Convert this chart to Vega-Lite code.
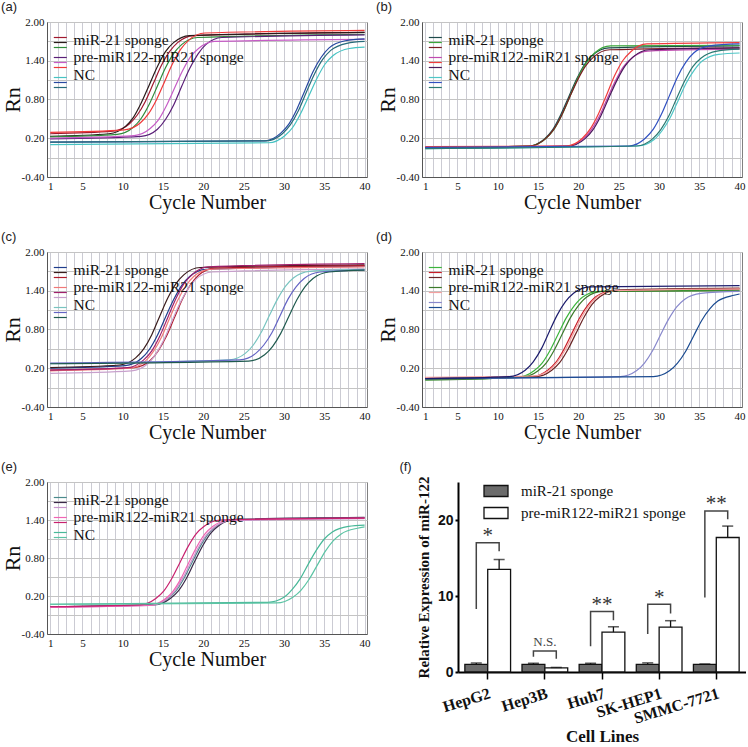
{
"$schema": "https://vega.github.io/schema/vega-lite/v6.json",
"background": "white",
"padding": {"left": 0, "top": 0, "right": 0, "bottom": 0},
"spacing": 17,
"config": {"view": {"stroke": "#808080"}, "line": {"strokeWidth": 1.2, "interpolate": "monotone"}},
"datasets": {
"lg": [{"g": "miR-21 sponge"}, {"g": "pre-miR122-miR21 sponge"}, {"g": "NC"}],
"a": [
{"s":"a1","x":1,"y":0.27},{"s":"a1","x":8.8,"y":0.31},{"s":"a1","x":10.8,"y":0.42},{"s":"a1","x":11.8,"y":0.56},{"s":"a1","x":12.8,"y":0.77},{"s":"a1","x":13.8,"y":1.05},{"s":"a1","x":14.8,"y":1.33},{"s":"a1","x":15.8,"y":1.54},{"s":"a1","x":16.8,"y":1.68},{"s":"a1","x":18.8,"y":1.79},{"s":"a1","x":40,"y":1.84},
{"s":"a2","x":1,"y":0.23},{"s":"a2","x":8.3,"y":0.27},{"s":"a2","x":10.3,"y":0.38},{"s":"a2","x":11.3,"y":0.52},{"s":"a2","x":12.3,"y":0.75},{"s":"a2","x":13.3,"y":1.03},{"s":"a2","x":14.3,"y":1.31},{"s":"a2","x":15.3,"y":1.54},{"s":"a2","x":16.3,"y":1.68},{"s":"a2","x":18.3,"y":1.79},{"s":"a2","x":40,"y":1.84},
{"s":"a3","x":1,"y":0.22},{"s":"a3","x":9.3,"y":0.26},{"s":"a3","x":11.3,"y":0.37},{"s":"a3","x":12.3,"y":0.51},{"s":"a3","x":13.3,"y":0.73},{"s":"a3","x":14.3,"y":1.01},{"s":"a3","x":15.3,"y":1.29},{"s":"a3","x":16.3,"y":1.51},{"s":"a3","x":17.3,"y":1.65},{"s":"a3","x":19.3,"y":1.76},{"s":"a3","x":40,"y":1.81},
{"s":"a4","x":1,"y":0.19},{"s":"a4","x":12.3,"y":0.23},{"s":"a4","x":14.3,"y":0.34},{"s":"a4","x":15.3,"y":0.49},{"s":"a4","x":16.3,"y":0.71},{"s":"a4","x":17.3,"y":1.0},{"s":"a4","x":18.3,"y":1.28},{"s":"a4","x":19.3,"y":1.5},{"s":"a4","x":20.3,"y":1.65},{"s":"a4","x":22.3,"y":1.76},{"s":"a4","x":40,"y":1.8},
{"s":"a5","x":1,"y":0.2},{"s":"a5","x":11.4,"y":0.24},{"s":"a5","x":13.4,"y":0.35},{"s":"a5","x":14.4,"y":0.48},{"s":"a5","x":15.4,"y":0.7},{"s":"a5","x":16.4,"y":0.97},{"s":"a5","x":17.4,"y":1.24},{"s":"a5","x":18.4,"y":1.46},{"s":"a5","x":19.4,"y":1.59},{"s":"a5","x":21.4,"y":1.7},{"s":"a5","x":40,"y":1.73},
{"s":"a6","x":1,"y":0.29},{"s":"a6","x":10.2,"y":0.33},{"s":"a6","x":12.2,"y":0.44},{"s":"a6","x":13.2,"y":0.58},{"s":"a6","x":14.2,"y":0.8},{"s":"a6","x":15.2,"y":1.08},{"s":"a6","x":16.2,"y":1.36},{"s":"a6","x":17.2,"y":1.58},{"s":"a6","x":18.2,"y":1.72},{"s":"a6","x":20.2,"y":1.83},{"s":"a6","x":40,"y":1.87},
{"s":"a7","x":1,"y":0.1},{"s":"a7","x":28.1,"y":0.13},{"s":"a7","x":30.1,"y":0.24},{"s":"a7","x":31.1,"y":0.37},{"s":"a7","x":32.1,"y":0.59},{"s":"a7","x":33.1,"y":0.86},{"s":"a7","x":34.1,"y":1.13},{"s":"a7","x":35.1,"y":1.35},{"s":"a7","x":36.1,"y":1.48},{"s":"a7","x":38.1,"y":1.59},{"s":"a7","x":40,"y":1.61},
{"s":"a8","x":1,"y":0.14},{"s":"a8","x":27.6,"y":0.16},{"s":"a8","x":29.6,"y":0.28},{"s":"a8","x":30.6,"y":0.42},{"s":"a8","x":31.6,"y":0.65},{"s":"a8","x":32.6,"y":0.94},{"s":"a8","x":33.6,"y":1.23},{"s":"a8","x":34.6,"y":1.45},{"s":"a8","x":35.6,"y":1.6},{"s":"a8","x":37.6,"y":1.71},{"s":"a8","x":40,"y":1.74},
{"s":"a9","x":1,"y":0.14},{"s":"a9","x":27.8,"y":0.16},{"s":"a9","x":29.8,"y":0.27},{"s":"a9","x":30.8,"y":0.41},{"s":"a9","x":31.8,"y":0.63},{"s":"a9","x":32.8,"y":0.92},{"s":"a9","x":33.8,"y":1.2},{"s":"a9","x":34.8,"y":1.42},{"s":"a9","x":35.8,"y":1.56},{"s":"a9","x":37.8,"y":1.67},{"s":"a9","x":40,"y":1.7}
],
"b": [
{"s":"b1","x":1,"y":0.05},{"s":"b1","x":13.8,"y":0.08},{"s":"b1","x":15.8,"y":0.19},{"s":"b1","x":16.8,"y":0.33},{"s":"b1","x":17.8,"y":0.56},{"s":"b1","x":18.8,"y":0.84},{"s":"b1","x":19.8,"y":1.12},{"s":"b1","x":20.8,"y":1.35},{"s":"b1","x":21.8,"y":1.49},{"s":"b1","x":23.8,"y":1.6},{"s":"b1","x":40,"y":1.63},
{"s":"b2","x":1,"y":0.05},{"s":"b2","x":14,"y":0.08},{"s":"b2","x":16,"y":0.2},{"s":"b2","x":17,"y":0.34},{"s":"b2","x":18,"y":0.57},{"s":"b2","x":19,"y":0.86},{"s":"b2","x":20,"y":1.15},{"s":"b2","x":21,"y":1.37},{"s":"b2","x":22,"y":1.52},{"s":"b2","x":24,"y":1.63},{"s":"b2","x":40,"y":1.64},
{"s":"b3","x":1,"y":0.05},{"s":"b3","x":13.9,"y":0.08},{"s":"b3","x":15.9,"y":0.19},{"s":"b3","x":16.9,"y":0.33},{"s":"b3","x":17.9,"y":0.55},{"s":"b3","x":18.9,"y":0.83},{"s":"b3","x":19.9,"y":1.1},{"s":"b3","x":20.9,"y":1.32},{"s":"b3","x":21.9,"y":1.46},{"s":"b3","x":23.9,"y":1.57},{"s":"b3","x":40,"y":1.6},
{"s":"b4","x":1,"y":0.06},{"s":"b4","x":18.6,"y":0.08},{"s":"b4","x":20.6,"y":0.19},{"s":"b4","x":21.6,"y":0.33},{"s":"b4","x":22.6,"y":0.54},{"s":"b4","x":23.6,"y":0.82},{"s":"b4","x":24.6,"y":1.09},{"s":"b4","x":25.6,"y":1.31},{"s":"b4","x":26.6,"y":1.44},{"s":"b4","x":28.6,"y":1.55},{"s":"b4","x":40,"y":1.58},
{"s":"b5","x":1,"y":0.05},{"s":"b5","x":18.8,"y":0.08},{"s":"b5","x":20.8,"y":0.19},{"s":"b5","x":21.8,"y":0.33},{"s":"b5","x":22.8,"y":0.55},{"s":"b5","x":23.8,"y":0.83},{"s":"b5","x":24.8,"y":1.1},{"s":"b5","x":25.8,"y":1.32},{"s":"b5","x":26.8,"y":1.46},{"s":"b5","x":28.8,"y":1.57},{"s":"b5","x":40,"y":1.6},
{"s":"b6","x":1,"y":0.07},{"s":"b6","x":18.5,"y":0.08},{"s":"b6","x":20.5,"y":0.2},{"s":"b6","x":21.5,"y":0.35},{"s":"b6","x":22.5,"y":0.58},{"s":"b6","x":23.5,"y":0.87},{"s":"b6","x":24.5,"y":1.17},{"s":"b6","x":25.5,"y":1.4},{"s":"b6","x":26.5,"y":1.54},{"s":"b6","x":28.5,"y":1.66},{"s":"b6","x":40,"y":1.68},
{"s":"b7","x":1,"y":0.04},{"s":"b7","x":27.4,"y":0.08},{"s":"b7","x":29.4,"y":0.18},{"s":"b7","x":30.4,"y":0.32},{"s":"b7","x":31.4,"y":0.52},{"s":"b7","x":32.4,"y":0.79},{"s":"b7","x":33.4,"y":1.06},{"s":"b7","x":34.4,"y":1.26},{"s":"b7","x":35.4,"y":1.4},{"s":"b7","x":37.4,"y":1.5},{"s":"b7","x":40,"y":1.52},
{"s":"b8","x":1,"y":0.06},{"s":"b8","x":26.3,"y":0.08},{"s":"b8","x":28.3,"y":0.2},{"s":"b8","x":29.3,"y":0.34},{"s":"b8","x":30.3,"y":0.57},{"s":"b8","x":31.3,"y":0.86},{"s":"b8","x":32.3,"y":1.15},{"s":"b8","x":33.3,"y":1.37},{"s":"b8","x":34.3,"y":1.52},{"s":"b8","x":36.3,"y":1.63},{"s":"b8","x":40,"y":1.66},
{"s":"b9","x":1,"y":0.04},{"s":"b9","x":27.2,"y":0.08},{"s":"b9","x":29.2,"y":0.19},{"s":"b9","x":30.2,"y":0.33},{"s":"b9","x":31.2,"y":0.54},{"s":"b9","x":32.2,"y":0.82},{"s":"b9","x":33.2,"y":1.09},{"s":"b9","x":34.2,"y":1.31},{"s":"b9","x":35.2,"y":1.44},{"s":"b9","x":37.2,"y":1.55},{"s":"b9","x":40,"y":1.58}
],
"c": [
{"s":"c1","x":1,"y":0.2},{"s":"c1","x":10.3,"y":0.24},{"s":"c1","x":12.3,"y":0.35},{"s":"c1","x":13.3,"y":0.49},{"s":"c1","x":14.3,"y":0.71},{"s":"c1","x":15.3,"y":0.99},{"s":"c1","x":16.3,"y":1.26},{"s":"c1","x":17.3,"y":1.48},{"s":"c1","x":18.3,"y":1.62},{"s":"c1","x":20.3,"y":1.73},{"s":"c1","x":40,"y":1.78},
{"s":"c2","x":1,"y":0.21},{"s":"c2","x":9.6,"y":0.25},{"s":"c2","x":11.6,"y":0.36},{"s":"c2","x":12.6,"y":0.5},{"s":"c2","x":13.6,"y":0.72},{"s":"c2","x":14.6,"y":1.01},{"s":"c2","x":15.6,"y":1.29},{"s":"c2","x":16.6,"y":1.51},{"s":"c2","x":17.6,"y":1.65},{"s":"c2","x":19.6,"y":1.76},{"s":"c2","x":40,"y":1.8},
{"s":"c3","x":1,"y":0.17},{"s":"c3","x":11.4,"y":0.21},{"s":"c3","x":13.4,"y":0.32},{"s":"c3","x":14.4,"y":0.47},{"s":"c3","x":15.4,"y":0.69},{"s":"c3","x":16.4,"y":0.98},{"s":"c3","x":17.4,"y":1.27},{"s":"c3","x":18.4,"y":1.49},{"s":"c3","x":19.4,"y":1.64},{"s":"c3","x":21.4,"y":1.75},{"s":"c3","x":40,"y":1.79},
{"s":"c4","x":1,"y":0.16},{"s":"c4","x":10.8,"y":0.2},{"s":"c4","x":12.8,"y":0.31},{"s":"c4","x":13.8,"y":0.46},{"s":"c4","x":14.8,"y":0.68},{"s":"c4","x":15.8,"y":0.97},{"s":"c4","x":16.8,"y":1.25},{"s":"c4","x":17.8,"y":1.47},{"s":"c4","x":18.8,"y":1.62},{"s":"c4","x":20.8,"y":1.73},{"s":"c4","x":40,"y":1.77},
{"s":"c5","x":1,"y":0.17},{"s":"c5","x":10.6,"y":0.21},{"s":"c5","x":12.6,"y":0.33},{"s":"c5","x":13.6,"y":0.47},{"s":"c5","x":14.6,"y":0.7},{"s":"c5","x":15.6,"y":0.99},{"s":"c5","x":16.6,"y":1.28},{"s":"c5","x":17.6,"y":1.51},{"s":"c5","x":18.6,"y":1.65},{"s":"c5","x":20.6,"y":1.77},{"s":"c5","x":40,"y":1.82},
{"s":"c6","x":1,"y":0.12},{"s":"c6","x":11.1,"y":0.16},{"s":"c6","x":13.1,"y":0.27},{"s":"c6","x":14.1,"y":0.42},{"s":"c6","x":15.1,"y":0.64},{"s":"c6","x":16.1,"y":0.93},{"s":"c6","x":17.1,"y":1.21},{"s":"c6","x":18.1,"y":1.43},{"s":"c6","x":19.1,"y":1.58},{"s":"c6","x":21.1,"y":1.69},{"s":"c6","x":40,"y":1.74},
{"s":"c7","x":1,"y":0.27},{"s":"c7","x":23.2,"y":0.33},{"s":"c7","x":25.2,"y":0.43},{"s":"c7","x":26.2,"y":0.56},{"s":"c7","x":27.2,"y":0.76},{"s":"c7","x":28.2,"y":1.02},{"s":"c7","x":29.2,"y":1.27},{"s":"c7","x":30.2,"y":1.47},{"s":"c7","x":31.2,"y":1.6},{"s":"c7","x":33.2,"y":1.7},{"s":"c7","x":40,"y":1.73},
{"s":"c8","x":1,"y":0.28},{"s":"c8","x":24.5,"y":0.33},{"s":"c8","x":26.5,"y":0.43},{"s":"c8","x":27.5,"y":0.56},{"s":"c8","x":28.5,"y":0.75},{"s":"c8","x":29.5,"y":1.01},{"s":"c8","x":30.5,"y":1.27},{"s":"c8","x":31.5,"y":1.46},{"s":"c8","x":32.5,"y":1.59},{"s":"c8","x":34.5,"y":1.69},{"s":"c8","x":40,"y":1.72},
{"s":"c9","x":1,"y":0.27},{"s":"c9","x":25.6,"y":0.31},{"s":"c9","x":27.6,"y":0.41},{"s":"c9","x":28.6,"y":0.54},{"s":"c9","x":29.6,"y":0.74},{"s":"c9","x":30.6,"y":1.0},{"s":"c9","x":31.6,"y":1.26},{"s":"c9","x":32.6,"y":1.46},{"s":"c9","x":33.6,"y":1.59},{"s":"c9","x":35.6,"y":1.69},{"s":"c9","x":40,"y":1.72}
],
"d": [
{"s":"d1","x":1,"y":0.02},{"s":"d1","x":12.5,"y":0.06},{"s":"d1","x":14.5,"y":0.16},{"s":"d1","x":15.5,"y":0.28},{"s":"d1","x":16.5,"y":0.48},{"s":"d1","x":17.5,"y":0.73},{"s":"d1","x":18.5,"y":0.98},{"s":"d1","x":19.5,"y":1.17},{"s":"d1","x":20.5,"y":1.3},{"s":"d1","x":22.5,"y":1.39},{"s":"d1","x":40,"y":1.41},
{"s":"d2","x":1,"y":0.05},{"s":"d2","x":14.2,"y":0.07},{"s":"d2","x":16.2,"y":0.17},{"s":"d2","x":17.2,"y":0.29},{"s":"d2","x":18.2,"y":0.49},{"s":"d2","x":19.2,"y":0.74},{"s":"d2","x":20.2,"y":0.99},{"s":"d2","x":21.2,"y":1.18},{"s":"d2","x":22.2,"y":1.31},{"s":"d2","x":24.2,"y":1.4},{"s":"d2","x":40,"y":1.43},
{"s":"d3","x":1,"y":0.05},{"s":"d3","x":14.7,"y":0.07},{"s":"d3","x":16.7,"y":0.17},{"s":"d3","x":17.7,"y":0.29},{"s":"d3","x":18.7,"y":0.49},{"s":"d3","x":19.7,"y":0.74},{"s":"d3","x":20.7,"y":0.99},{"s":"d3","x":21.7,"y":1.19},{"s":"d3","x":22.7,"y":1.31},{"s":"d3","x":24.7,"y":1.41},{"s":"d3","x":40,"y":1.44},
{"s":"d4","x":1,"y":0.02},{"s":"d4","x":13,"y":0.06},{"s":"d4","x":15,"y":0.16},{"s":"d4","x":16,"y":0.28},{"s":"d4","x":17,"y":0.48},{"s":"d4","x":18,"y":0.73},{"s":"d4","x":19,"y":0.98},{"s":"d4","x":20,"y":1.17},{"s":"d4","x":21,"y":1.3},{"s":"d4","x":23,"y":1.39},{"s":"d4","x":40,"y":1.4},
{"s":"d5","x":1,"y":0.06},{"s":"d5","x":14.4,"y":0.08},{"s":"d5","x":16.4,"y":0.17},{"s":"d5","x":17.4,"y":0.3},{"s":"d5","x":18.4,"y":0.49},{"s":"d5","x":19.4,"y":0.74},{"s":"d5","x":20.4,"y":0.99},{"s":"d5","x":21.4,"y":1.18},{"s":"d5","x":22.4,"y":1.31},{"s":"d5","x":24.4,"y":1.4},{"s":"d5","x":40,"y":1.43},
{"s":"d6","x":1,"y":0.04},{"s":"d6","x":25.2,"y":0.07},{"s":"d6","x":27.2,"y":0.16},{"s":"d6","x":28.2,"y":0.28},{"s":"d6","x":29.2,"y":0.47},{"s":"d6","x":30.2,"y":0.72},{"s":"d6","x":31.2,"y":0.96},{"s":"d6","x":32.2,"y":1.15},{"s":"d6","x":33.2,"y":1.27},{"s":"d6","x":35.2,"y":1.36},{"s":"d6","x":40,"y":1.39},
{"s":"d7","x":1,"y":0.04},{"s":"d7","x":29.3,"y":0.07},{"s":"d7","x":31.3,"y":0.16},{"s":"d7","x":32.3,"y":0.28},{"s":"d7","x":33.3,"y":0.46},{"s":"d7","x":34.3,"y":0.7},{"s":"d7","x":35.3,"y":0.94},{"s":"d7","x":36.3,"y":1.12},{"s":"d7","x":37.3,"y":1.24},{"s":"d7","x":39.3,"y":1.33},{"s":"d7","x":40,"y":1.35},
{"s":"d8","x":1,"y":0.04},{"s":"d8","x":11.4,"y":0.07},{"s":"d8","x":13.4,"y":0.17},{"s":"d8","x":14.4,"y":0.3},{"s":"d8","x":15.4,"y":0.5},{"s":"d8","x":16.4,"y":0.77},{"s":"d8","x":17.4,"y":1.03},{"s":"d8","x":18.4,"y":1.23},{"s":"d8","x":19.4,"y":1.36},{"s":"d8","x":21.4,"y":1.46},{"s":"d8","x":40,"y":1.48}
],
"e": [
{"s":"e1","x":1,"y":0.03},{"s":"e1","x":13.6,"y":0.06},{"s":"e1","x":15.6,"y":0.16},{"s":"e1","x":16.6,"y":0.28},{"s":"e1","x":17.6,"y":0.48},{"s":"e1","x":18.6,"y":0.73},{"s":"e1","x":19.6,"y":0.98},{"s":"e1","x":20.6,"y":1.18},{"s":"e1","x":21.6,"y":1.3},{"s":"e1","x":23.6,"y":1.4},{"s":"e1","x":40,"y":1.43},
{"s":"e2","x":1,"y":0.03},{"s":"e2","x":13.9,"y":0.06},{"s":"e2","x":15.9,"y":0.16},{"s":"e2","x":16.9,"y":0.28},{"s":"e2","x":17.9,"y":0.48},{"s":"e2","x":18.9,"y":0.74},{"s":"e2","x":19.9,"y":0.99},{"s":"e2","x":20.9,"y":1.19},{"s":"e2","x":21.9,"y":1.31},{"s":"e2","x":23.9,"y":1.41},{"s":"e2","x":40,"y":1.44},
{"s":"e3","x":1,"y":0.02},{"s":"e3","x":13.4,"y":0.05},{"s":"e3","x":15.4,"y":0.15},{"s":"e3","x":16.4,"y":0.27},{"s":"e3","x":17.4,"y":0.47},{"s":"e3","x":18.4,"y":0.72},{"s":"e3","x":19.4,"y":0.97},{"s":"e3","x":20.4,"y":1.17},{"s":"e3","x":21.4,"y":1.29},{"s":"e3","x":23.4,"y":1.39},{"s":"e3","x":40,"y":1.42},
{"s":"e4","x":1,"y":0.02},{"s":"e4","x":13.2,"y":0.05},{"s":"e4","x":15.2,"y":0.15},{"s":"e4","x":16.2,"y":0.27},{"s":"e4","x":17.2,"y":0.47},{"s":"e4","x":18.2,"y":0.73},{"s":"e4","x":19.2,"y":0.98},{"s":"e4","x":20.2,"y":1.18},{"s":"e4","x":21.2,"y":1.3},{"s":"e4","x":23.2,"y":1.4},{"s":"e4","x":40,"y":1.43},
{"s":"e5","x":1,"y":0.03},{"s":"e5","x":12.1,"y":0.06},{"s":"e5","x":14.1,"y":0.16},{"s":"e5","x":15.1,"y":0.28},{"s":"e5","x":16.1,"y":0.48},{"s":"e5","x":17.1,"y":0.73},{"s":"e5","x":18.1,"y":0.98},{"s":"e5","x":19.1,"y":1.18},{"s":"e5","x":20.1,"y":1.3},{"s":"e5","x":22.1,"y":1.4},{"s":"e5","x":40,"y":1.43},
{"s":"e6","x":1,"y":0.07},{"s":"e6","x":28,"y":0.1},{"s":"e6","x":30,"y":0.18},{"s":"e6","x":31,"y":0.3},{"s":"e6","x":32,"y":0.47},{"s":"e6","x":33,"y":0.7},{"s":"e6","x":34,"y":0.92},{"s":"e6","x":35,"y":1.1},{"s":"e6","x":36,"y":1.21},{"s":"e6","x":38,"y":1.3},{"s":"e6","x":40,"y":1.32},
{"s":"e7","x":1,"y":0.07},{"s":"e7","x":29.1,"y":0.09},{"s":"e7","x":31.1,"y":0.18},{"s":"e7","x":32.1,"y":0.29},{"s":"e7","x":33.1,"y":0.46},{"s":"e7","x":34.1,"y":0.68},{"s":"e7","x":35.1,"y":0.9},{"s":"e7","x":36.1,"y":1.07},{"s":"e7","x":37.1,"y":1.18},{"s":"e7","x":39.1,"y":1.27},{"s":"e7","x":40,"y":1.29}
],
"f": [
{"cell":"HepG2","grp":"miR-21 sponge","v":1.0,"hi":1.2},{"cell":"HepG2","grp":"pre-miR122-miR21 sponge","v":13.5,"hi":14.8},
{"cell":"Hep3B","grp":"miR-21 sponge","v":1.0,"hi":1.15},{"cell":"Hep3B","grp":"pre-miR122-miR21 sponge","v":0.55,"hi":0.6},
{"cell":"Huh7","grp":"miR-21 sponge","v":1.0,"hi":1.15},{"cell":"Huh7","grp":"pre-miR122-miR21 sponge","v":5.25,"hi":5.95},
{"cell":"SK-HEP1","grp":"miR-21 sponge","v":1.0,"hi":1.2},{"cell":"SK-HEP1","grp":"pre-miR122-miR21 sponge","v":5.9,"hi":6.75},
{"cell":"SMMC-7721","grp":"miR-21 sponge","v":1.0,"hi":1.05},{"cell":"SMMC-7721","grp":"pre-miR122-miR21 sponge","v":17.7,"hi":19.2}
],
"fb": [
{"cell":"HepG2","grp":"miR-21 sponge","k":1,"y":8.3},{"cell":"HepG2","grp":"miR-21 sponge","k":2,"y":17.0},{"cell":"HepG2","grp":"pre-miR122-miR21 sponge","k":3,"y":17.0},{"cell":"HepG2","grp":"pre-miR122-miR21 sponge","k":4,"y":15.9},
{"cell":"Hep3B","grp":"miR-21 sponge","k":1,"y":2.0},{"cell":"Hep3B","grp":"miR-21 sponge","k":2,"y":2.75},{"cell":"Hep3B","grp":"pre-miR122-miR21 sponge","k":3,"y":2.75},{"cell":"Hep3B","grp":"pre-miR122-miR21 sponge","k":4,"y":1.75},
{"cell":"Huh7","grp":"miR-21 sponge","k":1,"y":3.4},{"cell":"Huh7","grp":"miR-21 sponge","k":2,"y":7.95},{"cell":"Huh7","grp":"pre-miR122-miR21 sponge","k":3,"y":7.95},{"cell":"Huh7","grp":"pre-miR122-miR21 sponge","k":4,"y":6.8},
{"cell":"SK-HEP1","grp":"miR-21 sponge","k":1,"y":5.0},{"cell":"SK-HEP1","grp":"miR-21 sponge","k":2,"y":8.9},{"cell":"SK-HEP1","grp":"pre-miR122-miR21 sponge","k":3,"y":8.9},{"cell":"SK-HEP1","grp":"pre-miR122-miR21 sponge","k":4,"y":7.7},
{"cell":"SMMC-7721","grp":"miR-21 sponge","k":1,"y":9.8},{"cell":"SMMC-7721","grp":"miR-21 sponge","k":2,"y":21.2},{"cell":"SMMC-7721","grp":"pre-miR122-miR21 sponge","k":3,"y":21.2},{"cell":"SMMC-7721","grp":"pre-miR122-miR21 sponge","k":4,"y":20.1}
],
"fs": [
{"cell":"HepG2","t":"*","y":17.9},{"cell":"Hep3B","t":"N.S.","y":3.9},{"cell":"Huh7","t":"**","y":8.8},{"cell":"SK-HEP1","t":"*","y":9.8},{"cell":"SMMC-7721","t":"**","y":22.1}
]
},
"resolve": {"scale": {"stroke": "independent", "fill": "independent"}, "legend": {"stroke": "independent", "fill": "independent"}},
"vconcat": [
{"hconcat": [
{"width": 320, "height": 155,
 "title": {"text": "(a)", "anchor": "start", "frame": "bounds", "font": "Liberation Sans", "fontSize": 13, "fontWeight": "normal", "offset": 2, "color": "#222"},
 "layer": [
  {"data": {"name": "a"}, "mark": {"type": "line"},
   "encoding": {
    "x": {"field": "x", "type": "quantitative", "scale": {"domain": [0.6, 40.3], "nice": false, "zero": false},
      "axis": {"title": "Cycle Number", "values": [1,2,3,4,5,6,7,8,9,10,11,12,13,14,15,16,17,18,19,20,21,22,23,24,25,26,27,28,29,30,31,32,33,34,35,36,37,38,39,40], "labelExpr": "datum.value==1||datum.value%5==0?datum.label:''", "grid": true, "gridColor": "#cbcbd3", "ticks": false, "labelOverlap": false, "labelFlush": false, "labelFont": "Liberation Serif", "labelFontSize": 11, "labelColor": "#111", "labelPadding": 3, "titleFont": "Liberation Serif", "titleFontSize": 20, "titleFontWeight": "normal", "titleColor": "#111", "titlePadding": 1, "domainColor": "#555"}},
    "y": {"field": "y", "type": "quantitative", "scale": {"domain": [-0.4, 2.0], "nice": false, "zero": false},
      "axis": {"title": "Rn", "values": [-0.4,-0.1,0.2,0.5,0.8,1.1,1.4,1.7,2.0], "labelExpr": "(round(datum.value*10)+60)%6==2?replace(format(datum.value,'.2f'),'\u2212','-'):''", "grid": true, "gridColor": "#c4c4c4", "ticks": false, "labelOverlap": false, "labelFlush": false, "labelFont": "Liberation Serif", "labelFontSize": 11, "labelColor": "#111", "labelPadding": 3, "titleFont": "Liberation Serif", "titleFontSize": 22, "titleFontWeight": "normal", "titleColor": "#111", "titlePadding": -3, "domainColor": "#555"}},
    "stroke": {"field": "s", "type": "nominal", "scale": {"domain": ["a1","a2","a3","_1","a4","a5","a6","_2","a7","a8","a9"], "range": ["#a0182e","#2a1a1a","#2e8b3a","#ffffff00","#5a1e78","#c65cc6","#f03838","#ffffff00","#46c3c3","#2848a0","#276b7a"]},
      "legend": {"orient": "none", "legendX": 10.8, "legendY": 13, "title": null, "symbolType": "M-3.75,0H3.75", "symbolSize": 12, "symbolStrokeWidth": 2, "labelFontSize": 1, "labelExpr": "''", "rowPadding": 0, "padding": 0}}
   }},
  {"data": {"name": "lg"}, "mark": {"type": "point", "opacity": 0},
   "encoding": {"fill": {"field": "g", "type": "nominal", "scale": {"domain": ["miR-21 sponge","pre-miR122-miR21 sponge","NC"], "range": ["#000","#000","#000"]},
     "legend": {"orient": "none", "legendX": 11, "legendY": 10, "title": null, "symbolSize": 0, "labelFont": "Liberation Serif", "labelFontSize": 15.5, "labelColor": "#111", "labelOffset": 0, "labelLimit": 300, "rowPadding": 0.5, "padding": 0}}}}
 ]},
{"width": 320, "height": 155,
 "title": {"text": "(b)", "anchor": "start", "frame": "bounds", "font": "Liberation Sans", "fontSize": 13, "fontWeight": "normal", "offset": 2, "color": "#222"},
 "layer": [
  {"data": {"name": "b"}, "mark": {"type": "line"},
   "encoding": {
    "x": {"field": "x", "type": "quantitative", "scale": {"domain": [0.6, 40.3], "nice": false, "zero": false},
      "axis": {"title": "Cycle Number", "values": [1,2,3,4,5,6,7,8,9,10,11,12,13,14,15,16,17,18,19,20,21,22,23,24,25,26,27,28,29,30,31,32,33,34,35,36,37,38,39,40], "labelExpr": "datum.value==1||datum.value%5==0?datum.label:''", "grid": true, "gridColor": "#cbcbd3", "ticks": false, "labelOverlap": false, "labelFlush": false, "labelFont": "Liberation Serif", "labelFontSize": 11, "labelColor": "#111", "labelPadding": 3, "titleFont": "Liberation Serif", "titleFontSize": 20, "titleFontWeight": "normal", "titleColor": "#111", "titlePadding": 1, "domainColor": "#555"}},
    "y": {"field": "y", "type": "quantitative", "scale": {"domain": [-0.4, 2.0], "nice": false, "zero": false},
      "axis": {"title": "Rn", "values": [-0.4,-0.1,0.2,0.5,0.8,1.1,1.4,1.7,2.0], "labelExpr": "(round(datum.value*10)+60)%6==2?replace(format(datum.value,'.2f'),'\u2212','-'):''", "grid": true, "gridColor": "#c4c4c4", "ticks": false, "labelOverlap": false, "labelFlush": false, "labelFont": "Liberation Serif", "labelFontSize": 11, "labelColor": "#111", "labelPadding": 3, "titleFont": "Liberation Serif", "titleFontSize": 22, "titleFontWeight": "normal", "titleColor": "#111", "titlePadding": -3, "domainColor": "#555"}},
    "stroke": {"field": "s", "type": "nominal", "scale": {"domain": ["b1","b2","b3","_1","b4","b6","b5","_2","b7","b8","b9"], "range": ["#1d4a4a","#3aa63a","#7a1c22","#ffffff00","#c04ab0","#f03c3c","#4a1a5c","#ffffff00","#4ec6c6","#3050c0","#2a7a72"]},
      "legend": {"orient": "none", "legendX": 10.8, "legendY": 13, "title": null, "symbolType": "M-3.75,0H3.75", "symbolSize": 12, "symbolStrokeWidth": 2, "labelFontSize": 1, "labelExpr": "''", "rowPadding": 0, "padding": 0}}
   }},
  {"data": {"name": "lg"}, "mark": {"type": "point", "opacity": 0},
   "encoding": {"fill": {"field": "g", "type": "nominal", "scale": {"domain": ["miR-21 sponge","pre-miR122-miR21 sponge","NC"], "range": ["#000","#000","#000"]},
     "legend": {"orient": "none", "legendX": 11, "legendY": 10, "title": null, "symbolSize": 0, "labelFont": "Liberation Serif", "labelFontSize": 15.5, "labelColor": "#111", "labelOffset": 0, "labelLimit": 300, "rowPadding": 0.5, "padding": 0}}}}
 ]}
], "spacing": 4, "resolve": {"scale": {"stroke": "independent", "fill": "independent"}, "legend": {"stroke": "independent", "fill": "independent"}}},
{"hconcat": [
{"width": 320, "height": 155,
 "title": {"text": "(c)", "anchor": "start", "frame": "bounds", "font": "Liberation Sans", "fontSize": 13, "fontWeight": "normal", "offset": 2, "color": "#222"},
 "layer": [
  {"data": {"name": "c"}, "mark": {"type": "line"},
   "encoding": {
    "x": {"field": "x", "type": "quantitative", "scale": {"domain": [0.6, 40.3], "nice": false, "zero": false},
      "axis": {"title": "Cycle Number", "values": [1,2,3,4,5,6,7,8,9,10,11,12,13,14,15,16,17,18,19,20,21,22,23,24,25,26,27,28,29,30,31,32,33,34,35,36,37,38,39,40], "labelExpr": "datum.value==1||datum.value%5==0?datum.label:''", "grid": true, "gridColor": "#cbcbd3", "ticks": false, "labelOverlap": false, "labelFlush": false, "labelFont": "Liberation Serif", "labelFontSize": 11, "labelColor": "#111", "labelPadding": 3, "titleFont": "Liberation Serif", "titleFontSize": 20, "titleFontWeight": "normal", "titleColor": "#111", "titlePadding": 1, "domainColor": "#555"}},
    "y": {"field": "y", "type": "quantitative", "scale": {"domain": [-0.4, 2.0], "nice": false, "zero": false},
      "axis": {"title": "Rn", "values": [-0.4,-0.1,0.2,0.5,0.8,1.1,1.4,1.7,2.0], "labelExpr": "(round(datum.value*10)+60)%6==2?replace(format(datum.value,'.2f'),'\u2212','-'):''", "grid": true, "gridColor": "#c4c4c4", "ticks": false, "labelOverlap": false, "labelFlush": false, "labelFont": "Liberation Serif", "labelFontSize": 11, "labelColor": "#111", "labelPadding": 3, "titleFont": "Liberation Serif", "titleFontSize": 22, "titleFontWeight": "normal", "titleColor": "#111", "titlePadding": -3, "domainColor": "#555"}},
    "stroke": {"field": "s", "type": "nominal", "scale": {"domain": ["c1","c2","c3","_1","c4","c5","c6","_2","c7","c8","c9"], "range": ["#1e3c8c","#3a1c1c","#b01a2a","#ffffff00","#f07878","#a0206c","#c8a0cc","#ffffff00","#78c4c0","#6464c4","#1f5a4e"]},
      "legend": {"orient": "none", "legendX": 10.8, "legendY": 13, "title": null, "symbolType": "M-3.75,0H3.75", "symbolSize": 12, "symbolStrokeWidth": 2, "labelFontSize": 1, "labelExpr": "''", "rowPadding": 0, "padding": 0}}
   }},
  {"data": {"name": "lg"}, "mark": {"type": "point", "opacity": 0},
   "encoding": {"fill": {"field": "g", "type": "nominal", "scale": {"domain": ["miR-21 sponge","pre-miR122-miR21 sponge","NC"], "range": ["#000","#000","#000"]},
     "legend": {"orient": "none", "legendX": 11, "legendY": 10, "title": null, "symbolSize": 0, "labelFont": "Liberation Serif", "labelFontSize": 15.5, "labelColor": "#111", "labelOffset": 0, "labelLimit": 300, "rowPadding": 0.5, "padding": 0}}}}
 ]},
{"width": 320, "height": 155,
 "title": {"text": "(d)", "anchor": "start", "frame": "bounds", "font": "Liberation Sans", "fontSize": 13, "fontWeight": "normal", "offset": 2, "color": "#222"},
 "layer": [
  {"data": {"name": "d"}, "mark": {"type": "line"},
   "encoding": {
    "x": {"field": "x", "type": "quantitative", "scale": {"domain": [0.6, 40.3], "nice": false, "zero": false},
      "axis": {"title": "Cycle Number", "values": [1,2,3,4,5,6,7,8,9,10,11,12,13,14,15,16,17,18,19,20,21,22,23,24,25,26,27,28,29,30,31,32,33,34,35,36,37,38,39,40], "labelExpr": "datum.value==1||datum.value%5==0?datum.label:''", "grid": true, "gridColor": "#cbcbd3", "ticks": false, "labelOverlap": false, "labelFlush": false, "labelFont": "Liberation Serif", "labelFontSize": 11, "labelColor": "#111", "labelPadding": 3, "titleFont": "Liberation Serif", "titleFontSize": 20, "titleFontWeight": "normal", "titleColor": "#111", "titlePadding": 1, "domainColor": "#555"}},
    "y": {"field": "y", "type": "quantitative", "scale": {"domain": [-0.4, 2.0], "nice": false, "zero": false},
      "axis": {"title": "Rn", "values": [-0.4,-0.1,0.2,0.5,0.8,1.1,1.4,1.7,2.0], "labelExpr": "(round(datum.value*10)+60)%6==2?replace(format(datum.value,'.2f'),'\u2212','-'):''", "grid": true, "gridColor": "#c4c4c4", "ticks": false, "labelOverlap": false, "labelFlush": false, "labelFont": "Liberation Serif", "labelFontSize": 11, "labelColor": "#111", "labelPadding": 3, "titleFont": "Liberation Serif", "titleFontSize": 22, "titleFontWeight": "normal", "titleColor": "#111", "titlePadding": -3, "domainColor": "#555"}},
    "stroke": {"field": "s", "type": "nominal", "scale": {"domain": ["d1","d2","d3","_1","d4","d5","_2","d6","d7","d8"], "range": ["#3cb43c","#c81e28","#6a2424","#ffffff00","#3a7a2a","#f4a0a0","#ffffff00","#8888cc","#1a4a90","#1c1c6c"]},
      "legend": {"orient": "none", "legendX": 10.8, "legendY": 13, "title": null, "values": ["d1","d2","d3","_1","d4","d5","_2","d6","d7"], "symbolType": "M-3.75,0H3.75", "symbolSize": 12, "symbolStrokeWidth": 2, "labelFontSize": 1, "labelExpr": "''", "rowPadding": 0, "padding": 0}}
   }},
  {"data": {"name": "lg"}, "mark": {"type": "point", "opacity": 0},
   "encoding": {"fill": {"field": "g", "type": "nominal", "scale": {"domain": ["miR-21 sponge","pre-miR122-miR21 sponge","NC"], "range": ["#000","#000","#000"]},
     "legend": {"orient": "none", "legendX": 11, "legendY": 10, "title": null, "symbolSize": 0, "labelFont": "Liberation Serif", "labelFontSize": 15.5, "labelColor": "#111", "labelOffset": 0, "labelLimit": 300, "rowPadding": 0.5, "padding": 0}}}}
 ]}
], "spacing": 4, "resolve": {"scale": {"stroke": "independent", "fill": "independent"}, "legend": {"stroke": "independent", "fill": "independent"}}},
{"hconcat": [
{"width": 320, "height": 152,
 "title": {"text": "(e)", "anchor": "start", "frame": "bounds", "font": "Liberation Sans", "fontSize": 13, "fontWeight": "normal", "offset": 2, "color": "#222"},
 "layer": [
  {"data": {"name": "e"}, "mark": {"type": "line"},
   "encoding": {
    "x": {"field": "x", "type": "quantitative", "scale": {"domain": [0.6, 40.3], "nice": false, "zero": false},
      "axis": {"title": "Cycle Number", "values": [1,2,3,4,5,6,7,8,9,10,11,12,13,14,15,16,17,18,19,20,21,22,23,24,25,26,27,28,29,30,31,32,33,34,35,36,37,38,39,40], "labelExpr": "datum.value==1||datum.value%5==0?datum.label:''", "grid": true, "gridColor": "#cbcbd3", "ticks": false, "labelOverlap": false, "labelFlush": false, "labelFont": "Liberation Serif", "labelFontSize": 11, "labelColor": "#111", "labelPadding": 3, "titleFont": "Liberation Serif", "titleFontSize": 20, "titleFontWeight": "normal", "titleColor": "#111", "titlePadding": 1, "domainColor": "#555"}},
    "y": {"field": "y", "type": "quantitative", "scale": {"domain": [-0.4, 2.0], "nice": false, "zero": false},
      "axis": {"title": "Rn", "values": [-0.4,-0.1,0.2,0.5,0.8,1.1,1.4,1.7,2.0], "labelExpr": "(round(datum.value*10)+60)%6==2?replace(format(datum.value,'.2f'),'\u2212','-'):''", "grid": true, "gridColor": "#c4c4c4", "ticks": false, "labelOverlap": false, "labelFlush": false, "labelFont": "Liberation Serif", "labelFontSize": 11, "labelColor": "#111", "labelPadding": 3, "titleFont": "Liberation Serif", "titleFontSize": 22, "titleFontWeight": "normal", "titleColor": "#111", "titlePadding": -3, "domainColor": "#555"}},
    "stroke": {"field": "s", "type": "nominal", "scale": {"domain": ["e1","e2","e3","_1","e4","e5","_2","e6","e7"], "range": ["#4a8a8c","#3a2848","#c896cc","#ffffff00","#f064b4","#c8206e","#ffffff00","#48b898","#5cc4a4"]},
      "legend": {"orient": "none", "legendX": 10.8, "legendY": 13, "title": null, "symbolType": "M-3.75,0H3.75", "symbolSize": 12, "symbolStrokeWidth": 2, "labelFontSize": 1, "labelExpr": "''", "rowPadding": 0, "padding": 0}}
   }},
  {"data": {"name": "lg"}, "mark": {"type": "point", "opacity": 0},
   "encoding": {"fill": {"field": "g", "type": "nominal", "scale": {"domain": ["miR-21 sponge","pre-miR122-miR21 sponge","NC"], "range": ["#000","#000","#000"]},
     "legend": {"orient": "none", "legendX": 11, "legendY": 10, "title": null, "symbolSize": 0, "labelFont": "Liberation Serif", "labelFontSize": 15.5, "labelColor": "#111", "labelOffset": 0, "labelLimit": 300, "rowPadding": 0.5, "padding": 0}}}}
 ]},
{"width": 288, "height": 190,
 "view": {"stroke": null},
 "title": {"text": "(f)", "anchor": "start", "frame": "bounds", "font": "Liberation Sans", "fontSize": 13, "fontWeight": "normal", "offset": 2, "dx": -17, "color": "#222"},
 "layer": [
  {"data": {"name": "f"}, "mark": {"type": "bar", "stroke": "#111", "strokeWidth": 1.3},
   "encoding": {
    "x": {"field": "cell", "type": "nominal", "sort": ["HepG2","Hep3B","Huh7","SK-HEP1","SMMC-7721"], "scale": {"paddingInner": 0.2, "paddingOuter": 0.12},
      "axis": {"title": "Cell Lines", "labelAngle": -17, "labelFont": "Liberation Serif", "labelFontWeight": "bold", "labelFontSize": 16, "labelColor": "#111", "labelPadding": 6, "titleFont": "Liberation Serif", "titleFontWeight": "bold", "titleFontSize": 17, "titleColor": "#111", "titlePadding": 2, "domainColor": "#000", "domainWidth": 2, "tickColor": "#000", "tickWidth": 1.5, "tickSize": 7}},
    "xOffset": {"field": "grp", "type": "nominal", "sort": ["miR-21 sponge","pre-miR122-miR21 sponge"]},
    "y": {"field": "v", "type": "quantitative", "scale": {"domain": [0, 25], "nice": false},
      "axis": {"title": "Relative Expression of miR-122", "values": [0,5,10,15,20,25], "grid": false, "labelFont": "Liberation Sans", "labelFontWeight": "bold", "labelFontSize": 14, "labelColor": "#111", "labelPadding": 2, "titleFont": "Liberation Serif", "titleFontWeight": "bold", "titleFontSize": 15, "titleColor": "#111", "titlePadding": 6, "domainColor": "#000", "domainWidth": 2, "tickColor": "#000", "tickWidth": 2, "tickSize": 3}},
    "fill": {"field": "grp", "type": "nominal", "scale": {"domain": ["miR-21 sponge","pre-miR122-miR21 sponge"], "range": ["#6b6b6b","#ffffff"]},
      "legend": {"orient": "none", "legendX": 25, "legendY": -4, "title": null, "symbolType": "M-1,-0.46H1V0.46H-1Z", "symbolSize": 576, "symbolStrokeColor": "#111", "symbolStrokeWidth": 1.3, "labelFont": "Liberation Serif", "labelFontSize": 15, "labelColor": "#111", "labelOffset": 12, "labelLimit": 300, "rowPadding": -4, "padding": 0}}
   }},
  {"data": {"name": "f"}, "mark": {"type": "rule", "color": "#111", "strokeWidth": 1.3},
   "encoding": {
    "x": {"field": "cell", "type": "nominal", "sort": ["HepG2","Hep3B","Huh7","SK-HEP1","SMMC-7721"]},
    "xOffset": {"field": "grp", "type": "nominal", "sort": ["miR-21 sponge","pre-miR122-miR21 sponge"]},
    "y": {"field": "v", "type": "quantitative"}, "y2": {"field": "hi"}}},
  {"data": {"name": "f"}, "mark": {"type": "tick", "color": "#111", "thickness": 1.5, "size": 11, "orient": "horizontal"},
   "encoding": {
    "x": {"field": "cell", "type": "nominal", "sort": ["HepG2","Hep3B","Huh7","SK-HEP1","SMMC-7721"]},
    "xOffset": {"field": "grp", "type": "nominal", "sort": ["miR-21 sponge","pre-miR122-miR21 sponge"]},
    "y": {"field": "hi", "type": "quantitative"}}},
  {"data": {"name": "fb"}, "mark": {"type": "line", "color": "#444", "strokeWidth": 1.5, "interpolate": "linear"},
   "encoding": {
    "x": {"field": "cell", "type": "nominal", "sort": ["HepG2","Hep3B","Huh7","SK-HEP1","SMMC-7721"]},
    "xOffset": {"field": "grp", "type": "nominal", "sort": ["miR-21 sponge","pre-miR122-miR21 sponge"]},
    "y": {"field": "y", "type": "quantitative"},
    "detail": {"field": "cell"},
    "order": {"field": "k", "type": "quantitative"}}},
  {"data": {"name": "fs"}, "transform": [{"filter": "datum.t != 'N.S.'"}], "mark": {"type": "text", "font": "Liberation Serif", "fontSize": 21, "color": "#333", "baseline": "middle"},
   "encoding": {
    "x": {"field": "cell", "type": "nominal", "sort": ["HepG2","Hep3B","Huh7","SK-HEP1","SMMC-7721"]},
    "y": {"field": "y", "type": "quantitative"}, "text": {"field": "t"}}},
  {"data": {"name": "fs"}, "transform": [{"filter": "datum.t == 'N.S.'"}], "mark": {"type": "text", "font": "Liberation Serif", "fontSize": 13, "color": "#444", "baseline": "middle"},
   "encoding": {
    "x": {"field": "cell", "type": "nominal", "sort": ["HepG2","Hep3B","Huh7","SK-HEP1","SMMC-7721"]},
    "y": {"field": "y", "type": "quantitative"}, "text": {"field": "t"}}}
 ]}
], "spacing": 28, "resolve": {"scale": {"stroke": "independent", "fill": "independent"}, "legend": {"stroke": "independent", "fill": "independent"}}}
]
}
